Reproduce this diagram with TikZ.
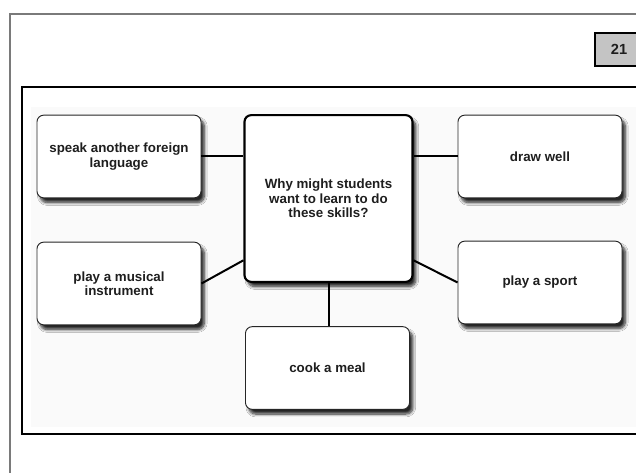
\documentclass[tikz,border=0pt]{standalone}
\usepackage{fontspec}
\setmainfont{Liberation Sans}
\usepackage{tikz}
\usetikzlibrary{shadows.blur}
\definecolor{rahmengrau}{HTML}{7A7A7A}
\definecolor{hintergrund}{HTML}{FAFAFA}
\definecolor{nummerngrau}{HTML}{C4C4C4}
\definecolor{schrift}{HTML}{1E1E1E}

\tikzset{
	skillbox/.style={draw=black!85, line width=0.7pt, fill=white, rounded corners=5pt,
		minimum width=123pt, minimum height=62pt, align=center, text=schrift,
		font=\fontsize{10}{10.8}\selectfont\bfseries,
		blur shadow={shadow xshift=2.5pt, shadow yshift=-3.5pt, shadow blur steps=8, shadow opacity=85}},
	hubbox/.style={skillbox, draw=black, line width=1.6pt, minimum width=126pt, minimum height=125pt},
	numbox/.style={draw=black, line width=1.2pt, fill=nummerngrau, minimum width=36pt, minimum height=24.5pt,
		font=\fontsize{11}{12}\selectfont\bfseries, text=schrift},
	verbindung/.style={draw=black, line width=1.5pt}
}

\begin{document}
\begin{tikzpicture}[x=0.75pt, y=-0.75pt]
		\useasboundingbox (0,0) rectangle (636,473);
		
		% Rahmen
		\draw[rahmengrau, line width=1.6pt] (10,480) -- (10,14) -- (645,14);
		\draw[black, line width=1.5pt] (645,87) -- (22,87) -- (22,434) -- (645,434);
		\fill[hintergrund] (31,107) rectangle (636,427);
		
		% Nummer
		\node[numbox] (pagenum) at (619,49.5) {21};
		
		% Kaesten
		\node[hubbox] (hub) at (328.5,198.5) {Why might students\\want to learn to do\\these skills?};
		\node[skillbox] (speak) at (119,156.5) {speak another foreign\\language};
		\node[skillbox] (music) at (119,283.5) {play a musical\\instrument};
		\node[skillbox] (draw) at (540,156.5) {draw well};
		\node[skillbox] (sport) at (540,282.5) {play a sport};
		\node[skillbox] (cook) at (327.5,368) {cook a meal};
		
		% Verbindungen
		\draw[verbindung] (speak.east) -- (speak.east -| hub.west);
		\draw[verbindung] (music.east) -- (hub.216);
		\draw[verbindung] (hub.east |- draw.west) -- (draw.west);
		\draw[verbindung] (hub.324) -- (sport.west);
		\draw[verbindung] (hub.south) -- (hub.south |- cook.north);
	\end{tikzpicture}
\end{document}
